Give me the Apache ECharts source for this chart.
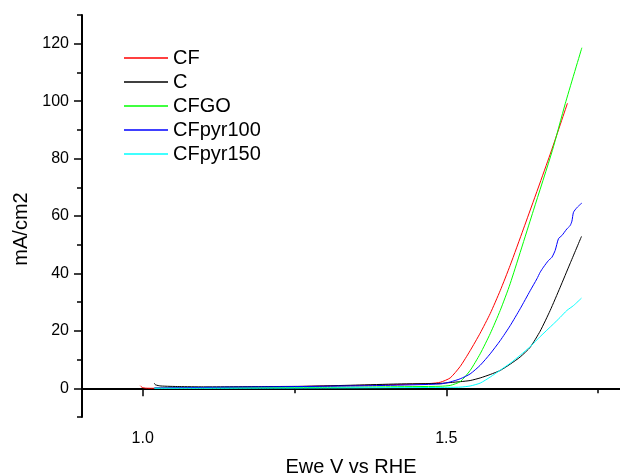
<!DOCTYPE html>
<html>
<head>
<meta charset="utf-8">
<title>mA/cm2 vs Ewe</title>
<script src="https://cdn.jsdelivr.net/npm/echarts@6/dist/echarts.min.js"></script>
</head>
<body style="margin:0">
<div id="chart" style="width:620px;height:474px"></div>
<script>
// series names and colours (legend order)
var names = ['CF', 'C', 'CFGO', 'CFpyr100', 'CFpyr150'];
var colors = ['#ff0000', '#000000', '#00ff00', '#0000ff', '#00ffff'];

// [potential V vs RHE, current mA/cm2]
var cfData = [[0.996,0.9],[0.999,0.3],[1.005,0.05],[1.02,0.0],[1.1,0.2],[1.2,0.4],[1.3,0.8],[1.4,1.2],
  [1.45,1.5],[1.475,1.7],[1.49,2.1],[1.5063,3.6],[1.5228,7.6],[1.5392,13.1],[1.5557,19.2],[1.5722,26.0],
  [1.5887,34.0],[1.6051,42.8],[1.627,55.5],[1.671,81.5],[1.6995,99.3]];
var cData = [[1.019,1.8],[1.021,1.2],[1.03,0.8],[1.06,0.6],[1.1,0.5],[1.2,0.6],[1.27,0.7],[1.35,1.1],
  [1.42,1.5],[1.4898,1.7],[1.5063,2.0],[1.5228,2.3],[1.5392,2.7],[1.5557,3.6],[1.5722,4.8],[1.5887,6.2],
  [1.6051,8.4],[1.6216,10.9],[1.6381,14.3],[1.6545,19.9],[1.671,27.1],[1.6875,35.2],[1.7035,43.3],
  [1.7226,52.9]];
var cfgoData = [[1.019,0.0],[1.1,0.1],[1.2,0.2],[1.3,0.3],[1.4,0.5],[1.4898,0.7],[1.5063,1.0],[1.5228,2.3],
  [1.5392,6.2],[1.5557,12.0],[1.5722,19.0],[1.5887,27.1],[1.6051,36.4],[1.6435,62.0],[1.6746,82.8],
  [1.6958,99.1],[1.7232,118.6]];
var pyr100Data = [[1.019,0.1],[1.1,0.3],[1.2,0.5],[1.3,0.7],[1.4,1.0],[1.4898,1.5],[1.5063,2.2],[1.5228,3.3],
  [1.5392,5.0],[1.5557,8.0],[1.5722,12.0],[1.5887,16.6],[1.6051,21.8],[1.6216,27.7],[1.6381,34.0],
  [1.6491,38.1],[1.6545,40.4],[1.66,42.2],[1.6682,44.5],[1.6738,45.6],[1.6792,48.0],[1.6847,52.1],
  [1.6903,53.2],[1.6985,55.5],[1.704,56.7],[1.7068,58.2],[1.7094,61.3],[1.715,62.9],[1.7204,64.0],[1.7232,64.5]];
var pyr150Data = [[1.019,0.0],[1.1,0.0],[1.2,0.05],[1.3,0.1],[1.4,0.2],[1.4898,0.3],[1.5228,0.4],[1.5392,0.8],
  [1.5557,1.8],[1.5722,3.9],[1.5887,6.3],[1.6051,8.7],[1.6216,11.5],[1.6381,14.5],[1.6545,18.0],
  [1.6764,22.4],[1.6875,24.7],[1.6985,27.1],[1.7094,28.8],[1.7226,31.4]];

// ticks
var xMajor = [1.0, 1.5];
var xMinor = [1.25, 1.75];
var yMajor = [0, 20, 40, 60, 80, 100, 120];
var yMinor = [-10, 10, 30, 50, 70, 90, 110, 130];

var allData = [cfData, cData, cfgoData, pyr100Data, pyr150Data];

var chart = echarts.init(document.getElementById('chart'));
var font = 'Arial, "Liberation Sans", sans-serif';
var lineStyle = {color: '#000', width: 2};

var series = [];
for (var i = 0; i < names.length; i++) {
  series.push({
    name: names[i],
    type: 'line',
    data: allData[i],
    showSymbol: false,
    symbol: 'none',
    smooth: 0.2,
    color: colors[i],
    lineStyle: {width: 1, color: colors[i]},
    emphasis: {disabled: true}
  });
}

var option = {
  animation: false,
  grid: {left: 82, right: 0, top: 15, bottom: 57, outerBoundsMode: 'none'},
  legend: {
    orient: 'vertical',
    left: 119,
    top: 41,
    itemWidth: 44,
    itemHeight: 1.5,
    itemGap: 0,
    icon: 'rect',
    textStyle: {fontFamily: font, fontSize: 20, color: '#000', lineHeight: 24},
    data: names
  },
  xAxis: [{
    type: 'value', min: 0.9, max: 1.786,
    name: 'Ewe V vs RHE', nameLocation: 'middle', nameGap: 40,
    nameTextStyle: {fontFamily: font, fontSize: 20, color: '#000'},
    axisLine: {lineStyle: lineStyle},
    axisTick: {length: 8, lineStyle: {color: '#000', width: 1.5}, customValues: xMajor},
    axisLabel: {fontFamily: font, fontSize: 16, color: '#000', margin: 14, customValues: xMajor,
      formatter: function (v) { return v.toFixed(1); }},
    splitLine: {show: false}
  }, {
    type: 'value', min: 0.9, max: 1.786, position: 'bottom',
    axisLine: {show: false},
    axisTick: {length: 5, lineStyle: {color: '#000', width: 1.5}, customValues: xMinor},
    axisLabel: {show: false},
    splitLine: {show: false}
  }],
  yAxis: [{
    type: 'value', min: -10, max: 130,
    name: 'mA/cm2', nameLocation: 'middle', nameGap: 48,
    nameTextStyle: {fontFamily: font, fontSize: 20, color: '#000', padding: [0, 26, 0, 0]},
    axisLine: {lineStyle: lineStyle},
    axisTick: {length: 8, lineStyle: {color: '#000', width: 1.5}, customValues: yMajor},
    axisLabel: {fontFamily: font, fontSize: 16, color: '#000', margin: 13, customValues: yMajor},
    splitLine: {show: false}
  }, {
    type: 'value', min: -10, max: 130, position: 'left',
    axisLine: {show: false},
    axisTick: {length: 5, lineStyle: {color: '#000', width: 1.5}, customValues: yMinor},
    axisLabel: {show: false},
    splitLine: {show: false}
  }],
  series: series
};

chart.setOption(option);
</script>
</body>
</html>
